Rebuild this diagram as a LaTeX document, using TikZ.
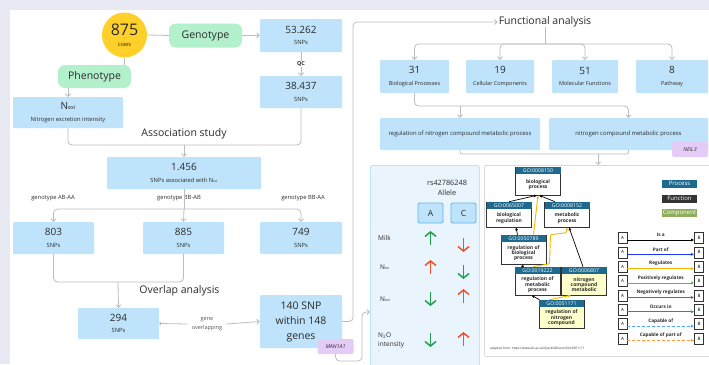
\documentclass[tikz,border=0pt]{standalone}
\usepackage{fontspec}
\setmainfont{Open Sans}
\usetikzlibrary{arrows.meta,positioning,calc}
\definecolor{pagebg}{HTML}{E8E9F3}
\definecolor{ink}{HTML}{2B2B2B}
\definecolor{snpblue}{HTML}{BEE3FA}
\definecolor{mint}{HTML}{B3F0CC}
\definecolor{cowgold}{HTML}{FFD029}
\definecolor{lilac}{HTML}{E5CCF7}
\definecolor{wire}{HTML}{BDBDBD}
\definecolor{allelebg}{HTML}{EAF4FC}
\definecolor{alleleedge}{HTML}{5DB4EE}
\definecolor{upgreen}{HTML}{1FA24E}
\definecolor{downred}{HTML}{F4502B}
\definecolor{gohead}{HTML}{1D6A8E}
\definecolor{gocream}{HTML}{FFFFCC}
\definecolor{goamber}{HTML}{F5B800}
\definecolor{gofunc}{HTML}{333333}
\definecolor{gocomp}{HTML}{8FAE5C}
\definecolor{goteal}{HTML}{2A8C8C}
\definecolor{gosky}{HTML}{4DA6FF}
\definecolor{goorange}{HTML}{FF9933}
\definecolor{gogreen}{HTML}{22DD22}
\definecolor{gored}{HTML}{FF2A2A}
\definecolor{goblue}{HTML}{2233FF}

% count on top, unit underneath
\newcommand{\bignum}[2]{{\fontsize{10}{11}\selectfont #1}\\[-0.5pt]{\fontsize{5.8}{6.5}\selectfont #2}}
\newcommand{\smallnum}[2]{{\fontsize{10}{11}\selectfont #1}\\[-0.5pt]{\fontsize{5.5}{6.5}\selectfont #2}}
\newcommand{\Nsub}[1]{N{\fontsize{0.55em}{1em}\selectfont #1}}
% one QuickGO term: frame, id bar, label
\newcommand{\goterm}[6]{%
  \node[goframe,#6] (#1) at (#2,#3) {};
  \node[gotitle] at (#1.north) {#4};
  \node[golabel] at ($(#1.center)+(0,3.8)$) {#5};
}

\tikzset{
  snpbox/.style={fill=snpblue,text=ink,align=center,inner sep=0pt,
                 rounded corners=1pt,minimum width=82pt,minimum height=32pt},
  pill/.style={fill=mint,text=ink,rounded corners=7pt,inner sep=0pt,
               minimum width=73pt,minimum height=24pt,
               font=\fontsize{10.5}{12}\selectfont},
  tag/.style={fill=lilac,text=ink,rounded corners=1.5pt,inner sep=0pt,
              minimum width=36pt,minimum height=15pt,
              font=\fontsize{5.3}{6}\selectfont\itshape},
  heading/.style={text=ink,inner sep=0pt,font=\fontsize{10.5}{12}\selectfont},
  note/.style={text=ink,inner sep=0pt,align=center,
               font=\fontsize{5.8}{8}\selectfont},
  flow/.style={draw=wire,line width=0.8pt,rounded corners=4pt},
  arr/.style={flow,-{Straight Barb[length=2.5pt,width=5pt]}},
  keybox/.style={fill=snpblue,draw=alleleedge,line width=0.8pt,rounded corners=1.5pt,
                 minimum width=25pt,minimum height=20pt,inner sep=0pt,
                 text=ink,font=\fontsize{8.5}{9}\selectfont},
  rowlabel/.style={anchor=west,text=ink,inner sep=0pt,align=left,
                   font=\fontsize{6.5}{9}\selectfont},
  bigarrow/.style={line width=1.5pt,-{Straight Barb[length=4.5pt,width=11pt]}},
  goframe/.style={draw=gofunc,fill=white,line width=0.6pt,minimum width=45pt,
                  minimum height=28pt,inner sep=0pt},
  gotitle/.style={anchor=north,fill=gohead,text=white,inner sep=0pt,
                  minimum width=45pt,minimum height=7pt,
                  font=\fontsize{5.2}{5.5}\selectfont},
  golabel/.style={text=ink,align=center,inner sep=0pt,
                  font=\fontsize{5}{5.3}\selectfont\bfseries},
  isa/.style={draw=black,line width=0.7pt,-{Latex[length=3pt,width=3pt]}},
  regul/.style={draw=goamber,line width=0.9pt,-{Latex[length=3pt,width=3pt]}},
  swatch/.style={text=white,inner sep=0pt,minimum width=35pt,minimum height=8pt,
                 font=\fontsize{6}{6}\selectfont},
  relbox/.style={draw=gofunc,line width=0.7pt,fill=white,inner sep=0pt,
                 minimum width=9pt,minimum height=11pt,
                 font=\fontsize{4.5}{5}\selectfont},
  rellabel/.style={text=ink,inner sep=0pt,font=\fontsize{4.7}{5}\selectfont\bfseries}
}

\begin{document}
\begin{tikzpicture}[x=1pt,y=-1pt]
  \path[use as bounding box] (0,0) rectangle (709,364);
  \fill[pagebg] (0,0) rectangle (709,364);
  \fill[white] (10,10) rectangle (712,368);

  % sampling and genotyping
  \node[circle,fill=cowgold,minimum size=45pt,inner sep=0pt,align=center,text=ink]
    (cows) at (124.5,35) {{\fontsize{16}{17}\selectfont 875}\\[-1pt]{\fontsize{5.8}{6}\selectfont cows}};
  \node[pill] (geno) at (205.5,35.5) {Genotype};
  \node[snpbox,minimum height=33pt] (snp53) at (301,35.5) {\bignum{53.262}{SNPs}};
  \node[note,font=\fontsize{5.5}{6}\selectfont\bfseries] (qc) at (301,64) {QC};
  \node[snpbox] (snp38) at (301,92) {\bignum{38.437}{SNPs}};
  \node[pill,minimum height=23pt] (pheno) at (94.5,76.5) {Phenotype};
  \node[snpbox,minimum width=110pt,minimum height=31pt] (nexi) at (68,112.5)
    {{\fontsize{10}{11}\selectfont\Nsub{exi}}\\[-0.5pt]{\fontsize{5.8}{6.5}\selectfont Nitrogen excretion intensity}};

  \draw[flow] (cows.east) -- (geno.west);
  \draw[arr] (geno.east) -- (snp53.west);
  \draw[flow] (snp53.south) -- (qc.north);
  \draw[arr] (qc.south) -- (snp38.north);
  \draw[flow] (cows.south) -- (cows.south |- pheno.north);
  \draw[arr] (nexi.north |- pheno.south) -- (nexi.north);

  % association study
  \node[heading] (asso) at (184,134) {Association study};
  \coordinate (assoj) at (184,145);
  \node[snpbox,minimum width=154pt] (snp1456) at (184,173)
    {\bignum{1.456}{SNPs associated with \Nsub{exi}}};
  \draw[flow] (nexi.south) |- (assoj) -| (snp38.south);
  \draw[arr] (assoj) -- (snp1456.north);

  % split by genotype
  \node[note] (gAA) at (53,198) {genotype AB-AA};
  \node[note] (gAB) at (179,198) {genotype BB-AB};
  \node[note] (gBB) at (303,198) {genotype BB-AA};
  \coordinate (split) at (184,209);
  \node[snpbox,minimum width=81pt] (s803) at (53.5,238) {\bignum{803}{SNPs}};
  \node[snpbox,minimum width=81pt] (s885) at (183.5,238) {\bignum{885}{SNPs}};
  \node[snpbox] (s749) at (301,238) {\bignum{749}{SNPs}};
  \draw[flow] (snp1456.south) -- (split);
  \draw[arr] (split) -| (s803.north);
  \draw[arr] (split) -| (s749.north);
  \draw[arr] (split) -- (s885.north);

  % overlap analysis
  \node[heading] (ovl) at (179.5,291) {Overlap analysis};
  \coordinate (ovlj) at (118,282);
  \node[snpbox,minimum width=81pt,minimum height=31pt] (s294) at (118.5,323.5) {\bignum{294}{SNPs}};
  \node[note,text=ink!80,font=\fontsize{5.5}{9}\selectfont] (gov) at (207,324) {gene\\overlapping};
  \node[snpbox,minimum height=53pt,font=\fontsize{10.5}{15}\selectfont] (s140) at (301,321.5)
    {140 SNP\\within 148\\genes};
  \node[tag] (man) at (335.5,346.5) {MAN1A1};
  \draw[flow] (s803.south) |- (ovlj) -| (s885.south);
  \draw[arr] (ovlj) -- (s294.north);
  \draw[flow,{Circle[length=2.5pt]}-] (s294.east) -- ([xshift=-4pt]gov.west);
  \draw[arr] ([xshift=4pt]gov.east) -- (s140.west);

  % functional analysis
  \node[heading] (func) at (545,22) {Functional analysis};
  \coordinate (up) at (353,321.5);
  \draw[arr] (s140.east) -- (up) |- ([xshift=-1pt]func.west);
  \coordinate (fsplit) at (545,44);
  \node[snpbox,minimum width=69pt,minimum height=33pt] (bp) at (414.5,76.5) {\smallnum{31}{Biological Processes}};
  \node[snpbox,minimum width=68pt,minimum height=33pt] (cc) at (500,76.5) {\smallnum{19}{Cellular Components}};
  \node[snpbox,minimum width=66pt,minimum height=33pt] (mf) at (585,76.5) {\smallnum{51}{Molecular Functions}};
  \node[snpbox,minimum width=72pt,minimum height=33pt] (pw) at (672,76.5) {\smallnum{8}{Pathway}};
  \draw[flow] (func.south) -- (fsplit);
  \foreach \cat in {bp,cc,mf,pw}
    \draw[arr] (fsplit) -| (\cat.north);

  \node[snpbox,minimum width=160pt,font=\fontsize{5.9}{7}\selectfont] (reg) at (460,134)
    {regulation of nitrogen compound metabolic process};
  \node[snpbox,minimum width=159pt,font=\fontsize{5.9}{7}\selectfont] (ncmp) at (628.5,134)
    {nitrogen compound metabolic process};
  \node[tag] (neil) at (690,149.5) {NEIL3};
  \coordinate (bpj) at (460,106);
  \draw[arr] (bp.south) |- (bpj) -| (ncmp.north);
  \draw[arr] (bpj) -- (reg.north);

  % allele effects
  \node[fill=allelebg,draw=snpblue,line width=0.8pt,rounded corners=2pt,anchor=north west,
        minimum width=109pt,minimum height=215pt] (allele) at (370,165) {};
  \node[note,font=\fontsize{7.3}{10}\selectfont] (rs) at (447,188) {rs42786248\\Allele};
  \node[keybox] (keyA) at (430.5,213) {A};
  \node[keybox] (keyC) at (463.5,213) {C};
  \node[rowlabel] (milk) at (378,238) {Milk};
  \node[rowlabel] (nex) at (380,267) {\Nsub{ex}};
  \node[rowlabel] (nexr) at (380,299) {\Nsub{exi}};
  \node[rowlabel] (n2o) at (378,342) {N\textsubscript{2}O\\intensity\\[-4pt]{\fontsize{3}{3}\selectfont --}};
  \foreach \ya/\da/\acol/\yc/\dc/\ccol in {238/-1/upgreen/245/1/downred,
                                           267/-1/downred/272/1/upgreen,
                                           299/1/upgreen/296/-1/downred,
                                           340/1/upgreen/339/-1/downred}{
    \draw[bigarrow,draw=\acol] (keyA.center |- 0,{\ya-7*(\da)}) -- (keyA.center |- 0,{\ya+7*(\da)});
    \draw[bigarrow,draw=\ccol] (keyC.center |- 0,{\yc-7*(\dc)}) -- (keyC.center |- 0,{\yc+7*(\dc)});
  }
  \coordinate (mdrop) at (362,361);
  \coordinate (mrise) at (362,312);
  \draw[arr] (man.south) |- (mdrop) -- (mrise) -- (allele.west |- mrise);

  % QuickGO ancestor chart
  \node[fill=white,draw=black!15,line width=0.8pt,rounded corners=2pt,anchor=north west,
        minimum width=232pt,minimum height=191pt] (gopanel) at (484,165) {};
  \coordinate (goj) at (598,154);
  \draw[flow,rounded corners=2pt] (reg.south) |- (goj) -| (ncmp.south);
  \draw[arr] (goj) -- (gopanel.north -| goj);

  \goterm{g8150}{538}{181}{GO:0008150}{biological\\process}{}
  \goterm{g65007}{509}{214.5}{GO:0065007}{biological\\regulation}{minimum height=25pt}
  \goterm{g8152}{567}{214.5}{GO:0008152}{metabolic\\process}{minimum height=25pt}
  \goterm{g50789}{523.5}{249.5}{GO:0050789}{regulation of\\biological\\process}{minimum height=29pt}
  \goterm{g19222}{537.5}{281}{GO:0019222}{regulation of\\metabolic\\process}{}
  \goterm{g6807}{584}{281}{GO:0006807}{nitrogen\\compound\\metabolic}{fill=gocream}
  \goterm{g51171}{561.5}{314}{GO:0051171}{regulation of\\nitrogen\\compound}{fill=gocream}

  \draw[isa] (g65007.north) -- ($(g8150.south)+(-1,0)$);
  \draw[isa] ($(g8152.north)+(-12,0)$) -- ($(g8150.south)+(1,0)$);
  \draw[regul] ($(g50789.north)+(10,0)$) -- (g8150.south);
  \draw[isa] ($(g50789.north)+(-6,0)$) -- ($(g65007.south)+(7,0)$);
  \draw[isa] ($(g19222.north)+(-15,0)$) -- (g50789.south);
  \draw[regul,rounded corners=1pt] ($(g19222.north)+(-4,0)$) -- ++(16,-3) -- ++(1,-29)
    -- ++(16,-2) -- (g8152.south);
  \draw[isa] ($(g6807.north)+(-1,0)$) -- ($(g8152.south)+(2,0)$);
  \draw[regul] ($(g51171.north)+(-12,0)$) -- ($(g6807.south)+(-13,0)$);
  \draw[isa] ($(g51171.north)+(-22,0)$) -- ($(g19222.south)+(-6,0)$);

  \node[anchor=west,inner sep=0pt,text=ink,font=\fontsize{3.1}{3.5}\selectfont] (src) at (490,349)
    {adapted from: https://www.ebi.ac.uk/QuickGO/term/GO:0051171};

  % legend
  \node[swatch,fill=gohead] (kproc) at (679.5,183.5) {Process};
  \node[swatch,fill=gofunc] (kfunc) at (679.5,198.5) {Function};
  \node[swatch,fill=gocomp] (kcomp) at (679.5,213) {Component};
  \foreach \i/\rel/\col/\pat in {0/Is a/black/solid,
                                 1/Part of/goblue/solid,
                                 2/Regulates/goamber/solid,
                                 3/Positively regulates/gogreen/solid,
                                 4/Negatively regulates/gored/solid,
                                 5/Occurs in/goteal/solid,
                                 6/Capable of/gosky/densely dashed,
                                 7/Capable of part of/goorange/densely dashed}{
    \node[relbox] (ra\i) at (622.5,{238+14.35*\i}) {A};
    \node[relbox] (rb\i) at (699,{238+14.35*\i}) {B};
    \draw[draw=\col,line width=0.8pt,\pat,-{Latex[length=3pt,width=3pt]}]
      ($(ra\i.east)+(0,2)$) -- ($(rb\i.west)+(0,2)$);
    \node[rellabel] at ($(ra\i.east)!0.5!(rb\i.west)+(0,-3)$) {\rel};
  }
\end{tikzpicture}
\end{document}
